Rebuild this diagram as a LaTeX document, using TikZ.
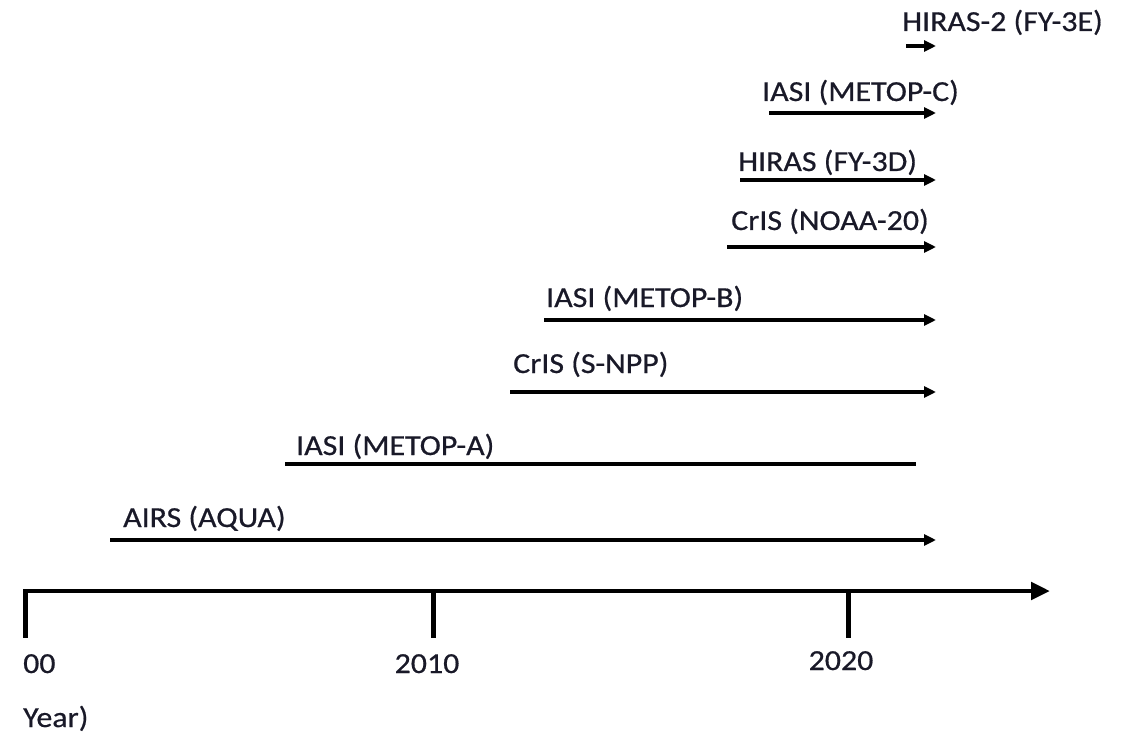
\documentclass[tikz,border=0pt]{standalone}
\usepackage{fontspec}
\setmainfont{Carlito}[FakeStretch=1.1,FakeBold=0.6]
\usetikzlibrary{arrows.meta}
\definecolor{txt}{RGB}{25,25,40}
\tikzset{
  lbl/.style={anchor=base west, inner sep=0pt, text=txt, font=\fontsize{29}{32}\selectfont},
  ticklbl/.style={anchor=base, inner sep=0pt, text=txt, font=\fontsize{29}{32}\selectfont},
  mission/.style={line width=3.3pt, -{Triangle[length=12pt,width=11pt]}},
  ended/.style={line width=3.3pt},
  axisline/.style={line width=4.8pt, -{Triangle[length=19pt,width=17pt]}},
  tickline/.style={line width=5pt}
}
\begin{document}
\begin{tikzpicture}[x=1pt,y=-1pt]
\useasboundingbox (0,0) rectangle (1124,735);
% axis
\coordinate (a0) at (23,591);
\coordinate (a1) at (1050,591);
\draw[axisline] (a0) -- (a1);
\coordinate (t0a) at (25.5,589); \coordinate (t0b) at (25.5,638);
\coordinate (t1a) at (433,589); \coordinate (t1b) at (433,638);
\coordinate (t2a) at (848,589); \coordinate (t2b) at (848,638);
\draw[tickline] (t0a) -- (t0b);
\draw[tickline] (t1a) -- (t1b);
\draw[tickline] (t2a) -- (t2b);
\node[lbl] (y0) at (23,673) {00};
\node[ticklbl] (y1) at (427,673) {2010};
\node[ticklbl] (y2) at (841,670) {2020};
\node[lbl] (yr) at (23,727) {Year)};
% missions
\coordinate (s1) at (110,540); \coordinate (e1) at (936,540);
\draw[mission] (s1) -- (e1);
\node[lbl] (l1) at (123,527) {AIRS (AQUA)};
\coordinate (s2) at (285,464); \coordinate (e2) at (916,464);
\draw[ended] (s2) -- (e2);
\node[lbl] (l2) at (296,455) {IASI (METOP-A)};
\coordinate (s3) at (510,392); \coordinate (e3) at (936,392);
\draw[mission] (s3) -- (e3);
\node[lbl] (l3) at (513,373) {CrIS (S-NPP)};
\coordinate (s4) at (544,320); \coordinate (e4) at (936,320);
\draw[mission] (s4) -- (e4);
\node[lbl] (l4) at (546,307) {IASI (METOP-B)};
\coordinate (s5) at (727,247); \coordinate (e5) at (936,247);
\draw[mission] (s5) -- (e5);
\node[lbl] (l5) at (731,230) {CrIS (NOAA-20)};
\coordinate (s6) at (740,180); \coordinate (e6) at (936,180);
\draw[mission] (s6) -- (e6);
\node[lbl] (l6) at (738,171) {HIRAS (FY-3D)};
\coordinate (s7) at (769,113); \coordinate (e7) at (936,113);
\draw[mission] (s7) -- (e7);
\node[lbl] (l7) at (762,101) {IASI (METOP-C)};
\coordinate (s8) at (906,46); \coordinate (e8) at (936,46);
\draw[mission] (s8) -- (e8);
\node[lbl] (l8) at (902,31) {HIRAS-2 (FY-3E)};
\end{tikzpicture}
\end{document}
